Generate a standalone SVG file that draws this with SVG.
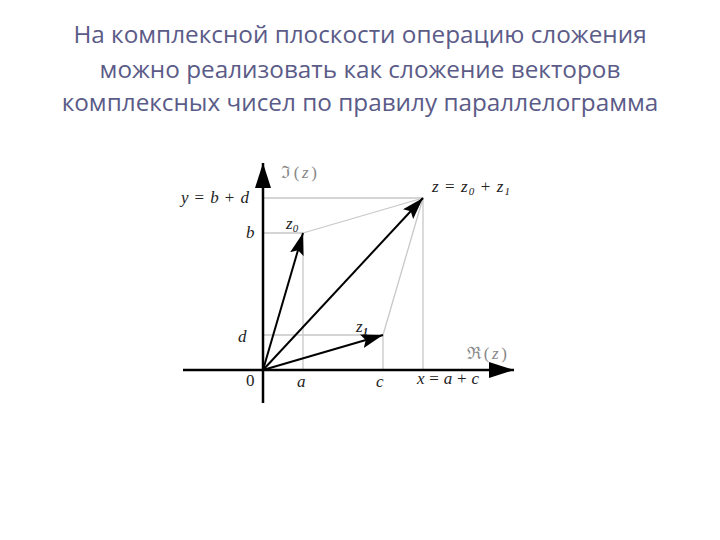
<svg xmlns="http://www.w3.org/2000/svg" width="720" height="540" viewBox="0 0 720 540">
<style>
.title{font-family:"Open Sans","Noto Sans",sans-serif;font-size:24.3px;fill:#5b5b88;text-anchor:middle}
.grid{stroke:#c8c8c8;stroke-width:1.3;fill:none}
.axis{stroke:#000;stroke-width:2.5;fill:none}
.vec{stroke:#000;stroke-width:2;fill:none}
.lbl{font-family:"Liberation Serif",serif;font-style:italic;font-size:17px;fill:#222}
.num{font-family:"Liberation Serif",serif;font-size:17px;fill:#222}
.glbl{font-family:"Liberation Serif",serif;font-size:17px;fill:#888}
</style>
<defs>
<marker id="ah" markerUnits="userSpaceOnUse" markerWidth="24" markerHeight="16" refX="22" refY="7" orient="auto">
<path d="M0,0 L22,7 L0,14 L4,7 Z" fill="#000"/>
</marker>
<marker id="axh" markerUnits="userSpaceOnUse" markerWidth="26" markerHeight="18" refX="25" refY="8" orient="auto">
<path d="M0,0 L25,8 L0,16 Z" fill="#000"/>
</marker>
</defs>
<rect width="720" height="540" fill="#fff"/>
<text class="title" x="360" y="43">На комплексной плоскости операцию сложения</text>
<text class="title" x="360" y="78">можно реализовать как сложение векторов</text>
<text class="title" x="360" y="111">комплексных чисел по правилу параллелограмма</text>
<g id="connectors">
<path class="grid" d="M263,198 H423 V370"/>
<path class="grid" d="M263,233 H303 V370"/>
<path class="grid" d="M263,335 H383 V370"/>
<path class="grid" d="M303,233 L423,198"/>
<path class="grid" d="M383,335 L423,198"/>
<path class="axis" d="M183,370 H514" marker-end="url(#axh)"/>
<path class="axis" d="M263,403 V163" marker-end="url(#axh)"/>
<path class="vec" d="M263,370 L303,233" marker-end="url(#ah)"/>
<path class="vec" d="M263,370 L383,335" marker-end="url(#ah)"/>
<path class="vec" d="M263,370 L423,198" marker-end="url(#ah)"/>
</g>
<g id="labels">
<text class="glbl" x="281" y="178" textLength="36" lengthAdjust="spacing">ℑ(<tspan font-style="italic">z</tspan>)</text>
<text class="lbl" x="432" y="192" textLength="78" lengthAdjust="spacing">z<tspan font-style="normal"> = </tspan>z<tspan font-size="11" dy="3">0</tspan><tspan font-style="normal" dy="-3"> + </tspan>z<tspan font-size="11" dy="3">1</tspan></text>
<text class="lbl" x="181" y="203" textLength="68" lengthAdjust="spacing">y<tspan font-style="normal">=</tspan>b<tspan font-style="normal">+</tspan>d</text>
<text class="lbl" x="246" y="238">b</text>
<text class="lbl" x="286" y="229">z<tspan font-size="11" dy="3">0</tspan></text>
<text class="lbl" x="238" y="342">d</text>
<text class="lbl" x="356" y="332">z<tspan font-size="11" font-weight="bold" dy="3">1</tspan></text>
<text class="glbl" x="467" y="359" textLength="40" lengthAdjust="spacing">ℜ(<tspan font-style="italic">z</tspan>)</text>
<text class="num" x="246" y="386">0</text>
<text class="lbl" x="297" y="387">a</text>
<text class="lbl" x="376" y="387">c</text>
<text class="lbl" x="417" y="384" textLength="62" lengthAdjust="spacing">x<tspan font-style="normal">=</tspan>a<tspan font-style="normal">+</tspan>c</text>
</g>
</svg>
